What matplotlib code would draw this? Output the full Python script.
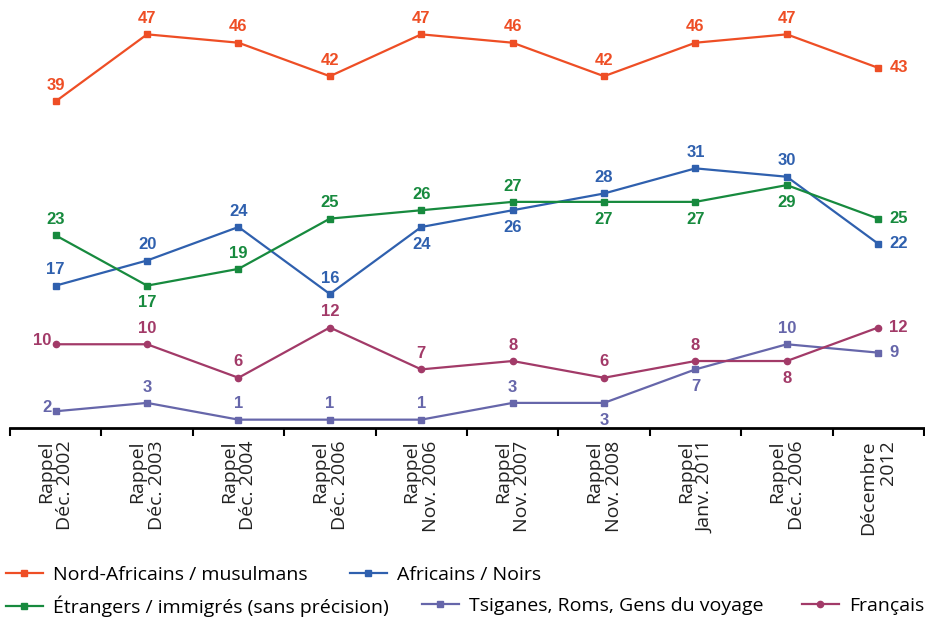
import numpy as np
import matplotlib.pyplot as plt

categories = ["Rappel\nDéc. 2002", "Rappel\nDéc. 2003", "Rappel\nDéc. 2004", "Rappel\nDéc. 2006",
              "Rappel\nNov. 2006", "Rappel\nNov. 2007", "Rappel\nNov. 2008", "Rappel\nJanv. 2011",
              "Rappel\nDéc. 2006", "Décembre\n2012"]
nord_africains = [39, 47, 46, 42, 47, 46, 42, 46, 47, 43]
africains = [17, 20, 24, 16, 24, 26, 28, 31, 30, 22]
etrangers = [23, 17, 19, 25, 26, 27, 27, 27, 29, 25]
tsiganes = [2, 3, 1, 1, 1, 3, 3, 7, 10, 9]
francais = [10, 10, 6, 12, 7, 8, 6, 8, 8, 12]

# label placement: a = above, b = below, r = right, l = left
pos_nord = "aaaaaaaaar"
pos_afr = "aaaabbaaar"
pos_etr = "abaaaabbbr"
pos_tsi = "laaaaabbar"
pos_fra = "laaaaaaabr"

series = [
    ("Nord-Africains / musulmans", nord_africains, "#EE4E25", "s", pos_nord),
    ("Africains / Noirs", africains, "#2F60AE", "s", pos_afr),
    ("Étrangers / immigrés (sans précision)", etrangers, "#178A3E", "s", pos_etr),
    ("Tsiganes, Roms, Gens du voyage", tsiganes, "#6666AA", "s", pos_tsi),
    ("Français", francais, "#A23A68", "o", pos_fra),
]

fig = plt.figure(figsize=(9.25, 6.18), dpi=100)
ax = fig.add_axes([0.0108, 0.3074, 0.988, 0.6926])
x = np.arange(len(categories))

handles = {}
for name, vals, col, mk, pos in series:
    ms = 5 if mk == "s" else 4.5
    h, = ax.plot(x, vals, color=col, lw=1.6, marker=mk, ms=ms, zorder=3)
    handles[name] = h
    for xi, v, p in zip(x, vals, pos):
        if p == "a":
            off, ha, va = (0, 6), "center", "bottom"
        elif p == "b":
            off, ha, va = (0, -7), "center", "top"
        elif p == "r":
            off, ha, va = (8, 0), "left", "center"
        else:
            off, ha, va = (-3, 3), "right", "center"
        ax.annotate(str(v), (xi, v), xytext=off, textcoords="offset points",
                    ha=ha, va=va, color=col, fontsize=12, fontweight="bold",
                    family="Liberation Sans")

ax.set_xlim(-0.5, len(categories) - 0.5)
ax.set_ylim(0, 51.1)
for s in ["top", "right", "left"]:
    ax.spines[s].set_visible(False)
ax.spines["bottom"].set_linewidth(2)
ax.set_yticks([])
ax.set_xticks(x)
ax.set_xticklabels(categories, rotation=90, va="top", ha="center", multialignment="right",
                   fontsize=14, family="Open Sans", color="#222222", linespacing=1.1)
ax.tick_params(axis="x", which="major", length=0, pad=9)
ax.set_xticks(np.arange(-0.5, len(categories)), minor=True)
ax.tick_params(axis="x", which="minor", length=6, width=1.5, direction="out")

# legend entries placed individually (two uneven rows)
legend_pos = [
    ("Nord-Africains / musulmans", 6, 575),
    ("Africains / Noirs", 350, 575),
    ("Étrangers / immigrés (sans précision)", 6, 606),
    ("Tsiganes, Roms, Gens du voyage", 422, 606),
    ("Français", 802, 606),
]
for name, px, py in legend_pos:
    fig.legend(handles=[handles[name]], labels=[name], loc="center left",
               bbox_to_anchor=(px / 925, 1 - py / 618), frameon=False, borderpad=0,
               borderaxespad=0, handlelength=1.9, handletextpad=0.5,
               prop={"family": "Open Sans", "size": 14})

fig.savefig("out.png", dpi=100)
